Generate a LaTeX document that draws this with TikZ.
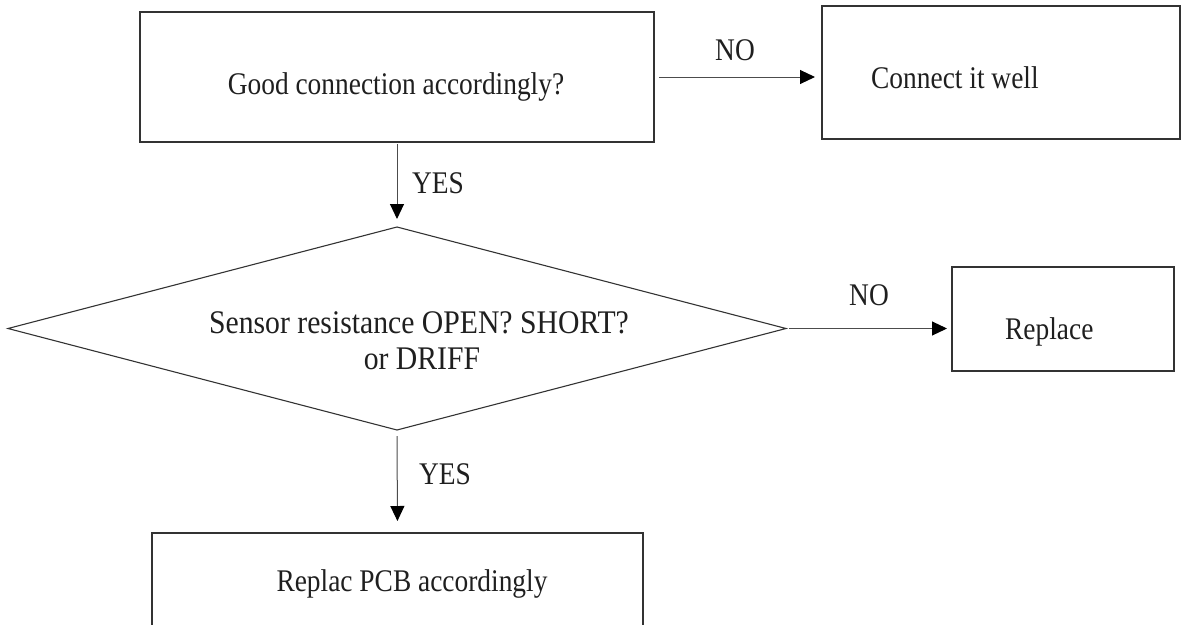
\documentclass[tikz,border=0pt]{standalone}
\usepackage{fontspec}
\setmainfont{Liberation Serif}
\newfontfamily\condensed{Liberation Serif}[FakeStretch=0.87]
\newfontfamily\condensedq{Liberation Serif}[FakeStretch=0.9]
\usetikzlibrary{shapes.geometric,arrows.meta}

\begin{document}
\begin{tikzpicture}[x=1pt,y=-1pt,
  every node/.style={font=\condensed\fontsize{31.5}{36}\selectfont, text=black!88},
  bigtext/.style={font=\condensedq\fontsize{33}{36}\selectfont},
  stepbox/.style={draw=black!80, line width=1.2pt, rectangle, inner sep=0pt, outer sep=0pt},
  decision/.style={draw=black!80, line width=1.1pt, diamond, inner sep=0pt, outer sep=0pt},
  flow/.style={draw=black!70, line width=1pt, -{Triangle[length=15pt,width=14pt,color=black,fill=black]}},
  lbl/.style={inner sep=0pt, anchor=base}
]
\clip (0,0) rectangle (1182,624);
\useasboundingbox (0,0) rectangle (1182,624);

% boxes and decision
\node[stepbox, minimum width=514pt, minimum height=130pt] (check) at (397,77) {};
\node[stepbox, minimum width=358pt, minimum height=133pt] (fix) at (1001,72.5) {};
\node[decision, minimum width=778pt, minimum height=203pt] (sensor) at (397,328.5) {};
\node[stepbox, minimum width=222pt, minimum height=104pt] (repl) at (1063,319) {};
\node[stepbox, minimum width=491pt, minimum height=140pt] (pcb) at (397.5,603) {};

% texts
\node[lbl] (tcheck) at (396,94) {Good connection accordingly?};
\node[lbl, anchor=base west] (tfix) at (871,88) {Connect it well};
\node[lbl, bigtext] (tsensor1) at (419,333) {Sensor resistance OPEN? SHORT?};
\node[lbl, bigtext] (tsensor2) at (422,369) {or DRIFF};
\node[lbl, anchor=base west] (trepl) at (1005,339) {Replace};
\node[lbl] (tpcb) at (412,591) {Replac PCB accordingly};

% connectors
\draw[flow, shorten <=5pt, shorten >=7pt] (check.east) -- (check.east -| fix.west);
\draw[flow, shorten <=2pt, shorten >=8pt] (check.south) -- (sensor.north);
\draw[flow, shorten <=3pt, shorten >=5pt] (sensor.east) -- (sensor.east -| repl.west);
\draw[flow, shorten <=6pt, shorten >=12pt] (sensor.south) -- (pcb.north);

% connector labels
\node[lbl] (no1) at (735,60) {NO};
\node[lbl, anchor=base west] (yes1) at (412,193) {YES};
\node[lbl] (no2) at (869,305) {NO};
\node[lbl, anchor=base west] (yes2) at (419,484) {YES};
\end{tikzpicture}
\end{document}
